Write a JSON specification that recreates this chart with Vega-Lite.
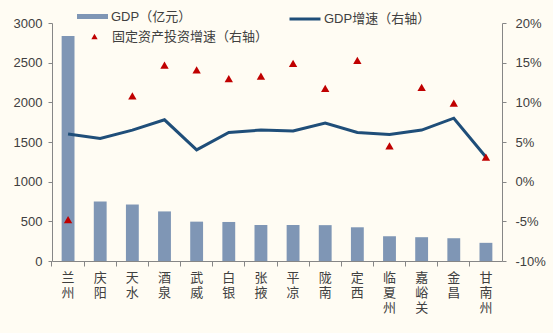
{
  "$schema": "https://vega.github.io/schema/vega-lite/v6.json",
  "width": 450,
  "height": 238,
  "autosize": {"type": "none"},
  "padding": {"left": 52, "top": 23, "right": 51, "bottom": 72},
  "background": "#FFFCF3",
  "config": {
    "view": {"stroke": null},
    "font": "Liberation Sans, Noto Sans CJK SC",
    "axis": {
      "domainColor": "#868686",
      "tickColor": "#868686",
      "labelColor": "#404040",
      "labelFont": "Liberation Sans, Noto Sans CJK SC",
      "labelFontSize": 13,
      "grid": false,
      "title": null
    },
    "legend": {
      "padding": 0,
      "labelFont": "Liberation Sans, Noto Sans CJK SC",
      "labelFontSize": 13,
      "labelColor": "#404040",
      "title": null
    }
  },
  "data": {
    "values": [
      {"city": "兰州", "gdp": 2837, "g": 6.0, "inv": -4.8},
      {"city": "庆阳", "gdp": 750, "g": 5.45, "inv": null},
      {"city": "天水", "gdp": 712, "g": 6.5, "inv": 10.8},
      {"city": "酒泉", "gdp": 625, "g": 7.8, "inv": 14.7},
      {"city": "武威", "gdp": 496, "g": 4.0, "inv": 14.1},
      {"city": "白银", "gdp": 492, "g": 6.2, "inv": 13.0},
      {"city": "张掖", "gdp": 454, "g": 6.5, "inv": 13.3},
      {"city": "平凉", "gdp": 454, "g": 6.4, "inv": 14.9},
      {"city": "陇南", "gdp": 452, "g": 7.4, "inv": 11.75},
      {"city": "定西", "gdp": 425, "g": 6.2, "inv": 15.3},
      {"city": "临夏州", "gdp": 312, "g": 5.95, "inv": 4.5},
      {"city": "嘉峪关", "gdp": 300, "g": 6.5, "inv": 11.9},
      {"city": "金昌", "gdp": 287, "g": 8.0, "inv": 9.9},
      {"city": "甘南州", "gdp": 229, "g": 3.1, "inv": 3.1}
    ]
  },
  "encoding": {
    "x": {
      "field": "city",
      "type": "nominal",
      "sort": null,
      "scale": {"paddingInner": 0, "paddingOuter": 0},
      "axis": {
        "labelAngle": 0,
        "bandPosition": 0,
        "tickSize": 5,
        "labelPadding": 5,
        "labelBaseline": "top",
        "labelLineHeight": 15,
        "labelFont": "Noto Sans CJK SC",
        "labelFontSize": 13,
        "labelExpr": "split(datum.label, '')"
      }
    }
  },
  "layer": [
    {
      "mark": {"type": "bar", "width": {"band": 0.4}},
      "encoding": {
        "y": {
          "field": "gdp",
          "type": "quantitative",
          "scale": {"domain": [0, 3000]},
          "axis": {"orient": "left", "values": [0, 500, 1000, 1500, 2000, 2500, 3000], "format": "d", "tickSize": 4, "labelPadding": 6}
        },
        "fill": {
          "datum": "GDP（亿元）",
          "type": "nominal",
          "scale": {"range": ["#7F96B5"]},
          "legend": {
            "orient": "none",
            "legendX": 25,
            "legendY": -22,
            "symbolType": "M-1,-0.16H1V0.16H-1Z",
            "symbolSize": 961,
            "symbolStrokeWidth": 0,
            "labelOffset": 3
          }
        }
      }
    },
    {
      "layer": [
        {
          "mark": {"type": "line", "strokeWidth": 3, "color": "#1F4E79"},
          "encoding": {
            "y": {
              "field": "g",
              "type": "quantitative",
              "scale": {"domain": [-10, 20]},
              "axis": {
                "orient": "right",
                "values": [-10, -5, 0, 5, 10, 15, 20],
                "labelExpr": "datum.value + '%'",
                "tickSize": 4,
                "labelPadding": 9
              }
            },
            "stroke": {
              "datum": "GDP增速（右轴）",
              "type": "nominal",
              "scale": {"range": ["#1F4E79"]},
              "legend": {
                "orient": "none",
                "legendX": 236,
                "legendY": -21,
                "symbolType": "M-1,0H1",
                "symbolSize": 961,
                "symbolStrokeWidth": 3,
                "labelOffset": 2
              }
            }
          }
        },
        {
          "mark": {"type": "point", "filled": true, "color": "#C00000", "opacity": 1, "size": 70},
          "encoding": {
            "y": {
              "field": "inv",
              "type": "quantitative",
              "scale": {"domain": [-10, 20]},
              "axis": {
                "orient": "right",
                "values": [-10, -5, 0, 5, 10, 15, 20],
                "labelExpr": "datum.value + '%'",
                "tickSize": 4,
                "labelPadding": 9
              }
            },
            "shape": {
              "datum": "固定资产投资增速（右轴）",
              "type": "nominal",
              "scale": {"range": ["triangle-up"]},
              "legend": {
                "orient": "none",
                "legendX": 36,
                "legendY": 7,
                "symbolSize": 40,
                "symbolFillColor": "#C00000",
                "symbolStrokeColor": "#C00000",
                "symbolStrokeWidth": 0,
                "labelOffset": 11
              }
            }
          }
        }
      ]
    }
  ],
  "resolve": {"scale": {"y": "independent"}}
}
